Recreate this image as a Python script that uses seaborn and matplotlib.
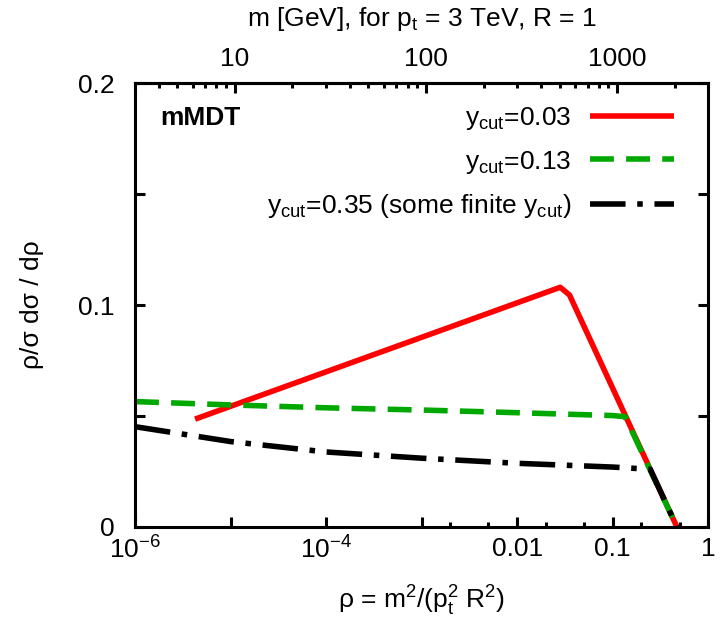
import numpy as np
import pandas as pd
import matplotlib
matplotlib.use("Agg")
import matplotlib.pyplot as plt
import seaborn as sns
from matplotlib.ticker import FixedLocator, FixedFormatter, NullFormatter

# curvas (rho, rho/sigma dsigma/drho)
rho_003 = [4.25e-6, 0.0282, 0.0353, 0.47]
val_003 = [0.0486, 0.108, 0.1045, 0.0]

rho_013 = [1e-6, 1e-5, 1e-4, 1e-3, 1e-2, 0.1, 0.135, 0.47]
val_013 = [0.0565, 0.0550, 0.0537, 0.0527, 0.0515, 0.0502, 0.0497, 0.0]

rho_035 = [1e-6, 1e-5, 1e-4, 1e-3, 1e-2, 0.1, 0.247, 0.47]
val_035 = [0.0452, 0.0385, 0.0338, 0.0310, 0.0287, 0.0270, 0.0260, 0.0]

labels = [r"y$_{cut}$=0.03", r"y$_{cut}$=0.13",
          r"y$_{cut}$=0.35 (some finite y$_{cut}$)"]

x_ticks = [1e-6, 1e-5, 1e-4, 1e-3, 1e-2, 0.1, 1]
x_ticklabels = [r"10$^{-6}$", "", r"10$^{-4}$", "", "0.01", "0.1", "1"]
x_minor = [2e-3, 5e-3, 2e-2, 5e-2, 0.2, 0.5]
y_ticks = [0, 0.05, 0.1, 0.15, 0.2]
y_ticklabels = ["0", "", "0.1", "", "0.2"]
m_ticks = [10, 100, 1000]
m_minor = [3, 4, 5, 6, 7, 8, 9, 20, 30, 40, 50, 60, 70, 80, 90,
           200, 300, 400, 500, 600, 700, 800, 900, 2000, 3000]
pt_gev = 3000.0

sns.set_theme(style="ticks", rc={'text.color': 'black', 'axes.labelcolor': 'black',
                                 'xtick.color': 'black', 'ytick.color': 'black',
                                 'axes.edgecolor': 'black'})
plt.rcParams['font.family'] = ['Liberation Sans', 'DejaVu Sans']
plt.rcParams['mathtext.fontset'] = 'custom'
plt.rcParams['mathtext.rm'] = 'Liberation Sans'
plt.rcParams['mathtext.it'] = 'Liberation Sans'
plt.rcParams['mathtext.default'] = 'regular'

fig = plt.figure(figsize=(7.22, 6.2), dpi=100)
ax = fig.add_axes([0.187, 0.15, 0.794, 0.716])

df1 = pd.DataFrame({'rho': rho_003, 'v': val_003})
df2 = pd.DataFrame({'rho': rho_013, 'v': val_013})
df3 = pd.DataFrame({'rho': rho_035, 'v': val_035})

sns.lineplot(x='rho', y='v', data=df1, ax=ax, color='#ff0000', lw=4.0, label=labels[0])
sns.lineplot(x='rho', y='v', data=df2, ax=ax, color='#00a800', lw=4.0, label=labels[1])
sns.lineplot(x='rho', y='v', data=df3, ax=ax, color='black', lw=4.0, label=labels[2])

ax.lines[1].set_dashes((4.3, 2.2))
ax.lines[2].set_dashes((6.4, 2.1, 1.0, 2.1))
for ln in ax.lines:
    ln.set_dash_capstyle('butt')
    ln.set_solid_capstyle('butt')

ax.set_xscale('log')
ax.set_xlim(1e-6, 1)
ax.set_ylim(0, 0.2)

ax.xaxis.set_major_locator(FixedLocator(x_ticks))
ax.xaxis.set_major_formatter(FixedFormatter(x_ticklabels))
ax.xaxis.set_minor_locator(FixedLocator(x_minor))
ax.xaxis.set_minor_formatter(NullFormatter())
ax.yaxis.set_major_locator(FixedLocator(y_ticks))
ax.yaxis.set_major_formatter(FixedFormatter(y_ticklabels))

ax.tick_params(axis='both', which='both', direction='in', width=2.2,
               labelsize=19, top=False, right=True, colors='black')
ax.tick_params(axis='both', which='major', length=7)
ax.tick_params(axis='both', which='minor', length=3.5)
ax.tick_params(axis='x', pad=7)
ax.tick_params(axis='y', pad=15)
for s in ax.spines.values():
    s.set_linewidth(2.2)
    s.set_color('black')

# eixo de cima: massa do jato
sec = ax.secondary_xaxis('top', functions=(lambda r: pt_gev * np.sqrt(np.clip(r, 1e-12, None)),
                                           lambda m: (m / pt_gev) ** 2))
sec.xaxis.set_major_locator(FixedLocator(m_ticks))
sec.xaxis.set_major_formatter(FixedFormatter([str(m) for m in m_ticks]))
sec.xaxis.set_minor_locator(FixedLocator(m_minor))
sec.xaxis.set_minor_formatter(NullFormatter())
sec.tick_params(which='both', direction='in', width=2.2, labelsize=19, pad=9, colors='black')
sec.tick_params(which='major', length=7)
sec.tick_params(which='minor', length=3.5)
sec.spines['top'].set_linewidth(2.2)
sec.spines['top'].set_color('black')
sec.set_xlabel(r"m [GeV], for p$_t$ = 3 TeV, R = 1", fontsize=19, labelpad=15)

ax.set_xlabel(r"ρ = m$^2$/(p$_t^2$ R$^2$)", fontsize=19, labelpad=14)
ax.set_ylabel("ρ/σ dσ / dρ", fontsize=19, labelpad=24)

ax.text(0.044, 0.921, "mMDT", transform=ax.transAxes, fontsize=19,
        fontweight='bold', va='center', ha='left')

ax.legend(loc='upper right', bbox_to_anchor=(0.9407, 0.95), frameon=False,
          markerfirst=False, handlelength=3.2, handletextpad=0.7,
          labelspacing=0.62, borderpad=0, borderaxespad=0, fontsize=19)

fig.savefig('out.png', dpi=100)
